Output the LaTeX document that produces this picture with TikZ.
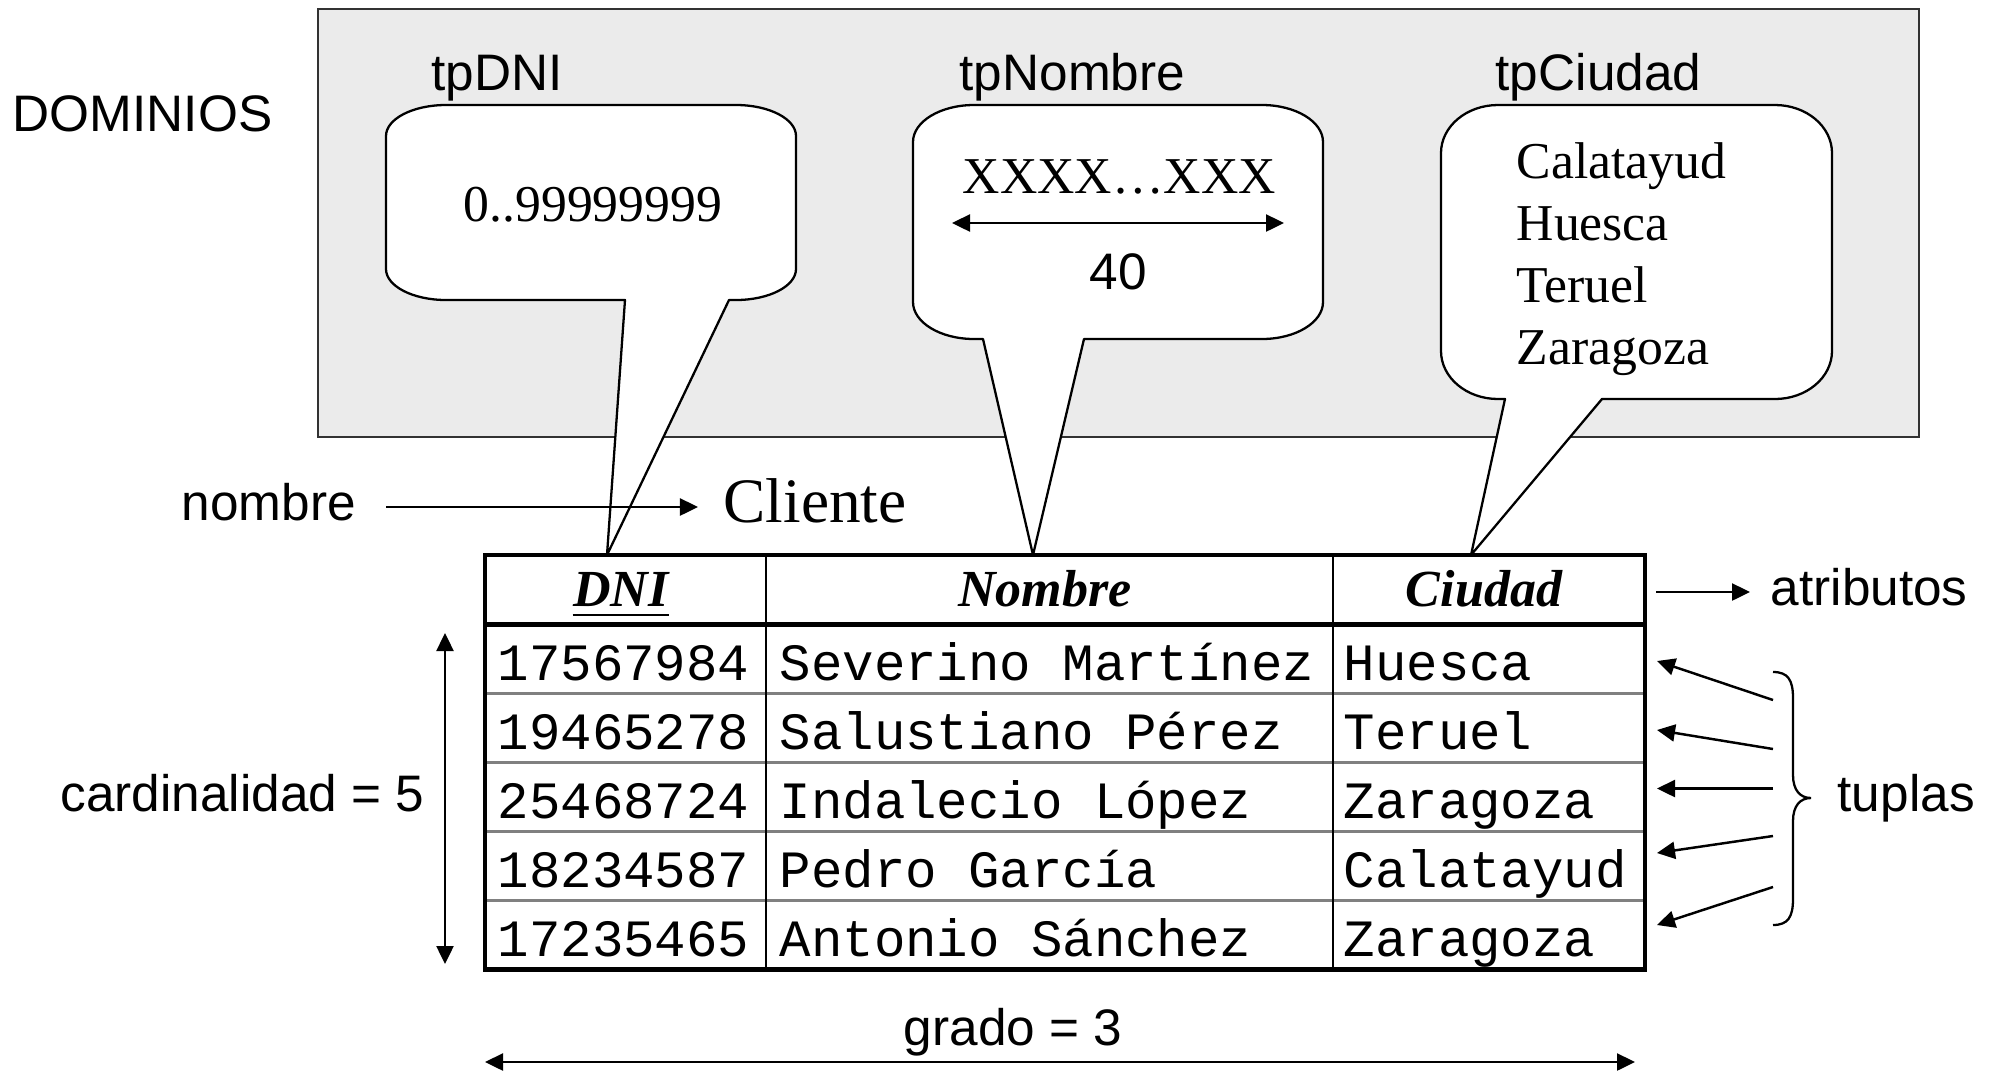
\documentclass[tikz,border=0pt]{standalone}
\usepackage{fontspec}
\setmainfont{Liberation Sans}
\newfontfamily\timesfont{Liberation Serif}
\newfontfamily\courierfont{Liberation Mono}
\usetikzlibrary{arrows.meta}

\definecolor{panelgray}{RGB}{235,235,235}
\definecolor{panelline}{RGB}{50,50,50}
\definecolor{rowline}{RGB}{128,128,128}

% Rounded callout with elliptical corners and a wedge tail:
% #1 left, #2 top, #3 right, #4 bottom, #5 corner x radius, #6 corner y radius,
% #7 tail base left x, #8 tail base right x, #9 tail tip coordinate
\newcommand{\calloutbubble}[9]{%
  \path[bubblestyle] ({#1+#5},#2) -- ({#3-#5},#2)
    .. controls ({#3-#5+0.5523*#5},#2) and (#3,{#2+#6-0.5523*#6}) .. (#3,{#2+#6})
    -- (#3,{#4-#6})
    .. controls (#3,{#4-#6+0.5523*#6}) and ({#3-#5+0.5523*#5},#4) .. ({#3-#5},#4)
    -- (#8,#4) -- (#9) -- (#7,#4)
    -- ({#1+#5},#4)
    .. controls ({#1+#5-0.5523*#5},#4) and (#1,{#4-#6+0.5523*#6}) .. (#1,{#4-#6})
    -- (#1,{#2+#6})
    .. controls (#1,{#2+#6-0.5523*#6}) and ({#1+#5-0.5523*#5},#2) .. ({#1+#5},#2)
    -- cycle;}

\begin{document}
\begin{tikzpicture}[x=0.01cm,y=-0.01cm,
  lbl/.style={inner sep=0pt, font=\fontsize{14.6}{17}\selectfont},
  serif/.style={inner sep=0pt, font=\timesfont\fontsize{14.7}{17}\selectfont},
  cell/.style={inner sep=0pt, anchor=base west, font=\courierfont\fontsize{14.9}{17}\selectfont},
  head/.style={inner sep=0pt, anchor=base, font=\timesfont\bfseries\itshape\fontsize{14.8}{17}\selectfont},
  tip/.style={Triangle[length=0.18cm,width=0.17cm]},
  arr/.style={line width=0.7pt, -{Triangle[length=0.18cm,width=0.17cm]}},
  dblarr/.style={line width=0.7pt, {Triangle[length=0.18cm,width=0.17cm]}-{Triangle[length=0.18cm,width=0.17cm]}},
  bubblestyle/.style={draw=black, fill=white, line width=0.65pt, line join=round},
]
\useasboundingbox (0,0) rectangle (1990,1072);

% ---- domain panel ----
\draw[draw=panelline, fill=panelgray, line width=0.6pt] (318,9) rectangle (1919,437);
\node[lbl, anchor=base west] (dominios) at (12,131) {DOMINIOS};
\node[lbl, anchor=base west] (tpdni) at (431,90) {tpDNI};
\node[lbl, anchor=base west] (tpnombre) at (959,90) {tpNombre};
\node[lbl, anchor=base west] (tpciudad) at (1495,90) {tpCiudad};

% tail tips on the header row
\coordinate (tipdni) at (607,555);
\coordinate (tipnom) at (1033,555);
\coordinate (tipciu) at (1471,555);

\calloutbubble{386}{105}{796}{300}{60}{31}{625}{729}{tipdni}
\calloutbubble{913}{105}{1323}{339}{61}{37}{983}{1084}{tipnom}
\calloutbubble{1441}{105}{1832}{399}{57}{48}{1505}{1602}{tipciu}

\node[serif, anchor=base west] (dnirange) at (463,221) {0..99999999};
\node[serif, anchor=base west] (xxx) at (962,193) {XXXX…XXX};
\coordinate (lenL) at (952,223);
\coordinate (lenR) at (1284,223);
\draw[dblarr] (lenL) -- (lenR);
\node[lbl, anchor=base] (cuarenta) at (1118,289) {40};

\node[serif, anchor=base west] (cCal) at (1516,178) {Calatayud};
\node[serif, anchor=base west] (cHue) at (1516,240) {Huesca};
\node[serif, anchor=base west] (cTer) at (1516,302) {Teruel};
\node[serif, anchor=base west] (cZar) at (1516,364) {Zaragoza};

% ---- relation name ----
\node[lbl, anchor=base west] (nombre) at (181,520) {nombre};
\node[inner sep=0pt, anchor=base west, font=\timesfont\fontsize{18}{21}\selectfont] (cliente) at (723,522) {Cliente};
\coordinate (nomS) at (386,507);
\coordinate (nomE) at (698,507);
\draw[arr] (nomS) -- (nomE);

% ---- table ----
\foreach \yy in {693.5,762.5,831.5,900.5}
  \draw[rowline, line width=0.8pt] (485,\yy) -- (1645,\yy);
\draw[line width=0.7pt] (766,555) -- (766,969.5);
\draw[line width=0.7pt] (1333,555) -- (1333,969.5);
\draw[line width=1.4pt] (485,624.5) -- (1645,624.5);
\draw[line width=1.4pt] (485,555) rectangle (1645,969.5);

\node[head] (hdni) at (621,606) {DNI};
\draw[line width=0.75pt] ([yshift=-0.09cm]hdni.base west) -- ([yshift=-0.09cm]hdni.base east);
\node[head] (hnom) at (1045,606) {Nombre};
\node[head] (hciu) at (1484,606) {Ciudad};

\node[cell] (r1a) at (497,680) {17567984};
\node[cell] (r1b) at (779,680) {Severino Martínez};
\node[cell] (r1c) at (1343,680) {Huesca};
\node[cell] (r2a) at (497,749) {19465278};
\node[cell] (r2b) at (779,749) {Salustiano Pérez};
\node[cell] (r2c) at (1343,749) {Teruel};
\node[cell] (r3a) at (497,818) {25468724};
\node[cell] (r3b) at (779,818) {Indalecio López};
\node[cell] (r3c) at (1343,818) {Zaragoza};
\node[cell] (r4a) at (497,887) {18234587};
\node[cell] (r4b) at (779,887) {Pedro García};
\node[cell] (r4c) at (1343,887) {Calatayud};
\node[cell] (r5a) at (497,956) {17235465};
\node[cell] (r5b) at (779,956) {Antonio Sánchez};
\node[cell] (r5c) at (1343,956) {Zaragoza};

% ---- annotations ----
\coordinate (atrS) at (1656,592);
\coordinate (atrE) at (1750,592);
\draw[arr] (atrS) -- (atrE);
\node[lbl, anchor=base west] (atributos) at (1770,605) {atributos};

\coordinate (t1s) at (1773,700);   \coordinate (t1e) at (1657,661);
\coordinate (t2s) at (1773,749);   \coordinate (t2e) at (1657,730);
\coordinate (t3s) at (1773,788.5); \coordinate (t3e) at (1657,788.5);
\coordinate (t4s) at (1773,836);   \coordinate (t4e) at (1657,853);
\coordinate (t5s) at (1773,887);   \coordinate (t5e) at (1657,925);
\foreach \i in {1,...,5} \draw[arr] (t\i s) -- (t\i e);

\draw[line width=0.65pt] (1773,672) .. controls (1788,672) and (1793,680) .. (1793,698)
  -- (1793,775) .. controls (1793,790) and (1800,798) .. (1811,798)
  .. controls (1800,798) and (1793,806) .. (1793,821)
  -- (1793,899) .. controls (1793,917) and (1788,925) .. (1773,925);
\node[lbl, anchor=base west] (tuplas) at (1837,811) {tuplas};

\node[lbl, anchor=base east] (cardinalidad) at (425,811) {cardinalidad = 5};
\coordinate (cardT) at (445,633);
\coordinate (cardB) at (445,964);
\draw[dblarr] (cardT) -- (cardB);

\node[lbl, anchor=base] (grado) at (1013,1045) {grado = 3};
\coordinate (gradoL) at (485,1062);
\coordinate (gradoR) at (1635,1062);
\draw[dblarr] (gradoL) -- (gradoR);
\end{tikzpicture}
\end{document}
